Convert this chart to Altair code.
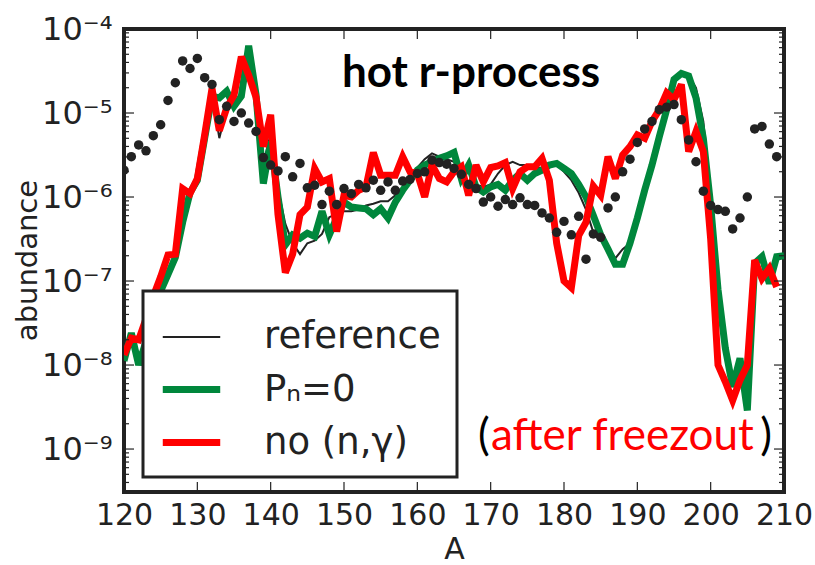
import altair as alt
import pandas as pd

# ---------------- data (log10 of abundance) ----------------
A_lines = list(range(120, 211))          # mass numbers for reference and P_n=0
A_nong = list(range(120, 210))           # mass numbers for no (n,gamma)
A_solar = list(range(120, 210))          # mass numbers for solar dots

ref_log10 = [
    -7.95, -7.65, -7.95, -7.72, -7.40, -7.12, -6.92, -6.72, -6.30, -5.95,
    -5.80, -5.30, -4.78, -5.30, -4.95, -4.88, -4.45, -4.25, -4.80, -5.60,
    -5.25, -5.90, -6.32, -6.55, -6.68, -6.55, -6.52, -6.44, -6.24, -6.20,
    -6.17, -6.17, -6.15, -6.10, -6.08, -6.05, -6.05, -5.98, -5.90, -5.80,
    -5.65, -5.55, -5.48, -5.52, -5.55, -5.58, -5.75, -5.70, -5.85, -5.88,
    -5.85, -5.72, -5.62, -5.58, -5.62, -5.62, -5.66, -5.65, -5.62, -5.62,
    -5.70, -5.80, -5.95, -6.15, -6.42, -6.47, -6.60, -6.73, -6.62, -6.55,
    -6.22, -5.85, -5.58, -5.26, -4.94, -4.60, -4.52, -4.55, -4.70, -5.10,
    -6.00, -7.10, -7.85, -8.20, -8.00, -8.40, -6.80, -6.75, -7.00, -6.75,
    -6.72,
]

pn0_log10 = [
    -7.95, -7.62, -8.00, -7.72, -7.38, -7.12, -6.92, -6.72, -6.30, -5.95,
    -5.80, -5.30, -4.80, -4.82, -4.74, -4.92, -4.80, -4.20, -4.78, -5.84,
    -5.34, -6.00, -6.57, -6.45, -6.49, -6.43, -6.47, -6.17, -6.45, -6.25,
    -6.06, -6.12, -6.13, -6.14, -6.21, -6.14, -6.25, -6.06, -5.92, -5.80,
    -5.68, -5.62, -5.58, -5.54, -5.51, -5.47, -5.78, -5.62, -5.88, -5.94,
    -5.88, -5.85, -5.92, -5.80, -5.72, -5.80, -5.72, -5.68, -5.62, -5.60,
    -5.66, -5.72, -5.85, -6.00, -6.22, -6.45, -6.62, -6.80, -6.80, -6.55,
    -6.25, -5.92, -5.62, -5.28, -4.96, -4.60, -4.53, -4.56, -4.82, -5.30,
    -6.10, -7.10, -7.80, -8.26, -7.92, -8.54, -6.79, -6.71, -7.03, -6.71,
    -6.70,
]

nong_log10 = [
    -7.88, -7.68, -7.70, -7.45, -7.18, -6.95, -6.69, -6.68, -5.90, -5.96,
    -5.78, -5.26, -4.71, -5.21, -4.94, -4.79, -4.33, -4.55, -4.81, -5.40,
    -5.02, -6.21, -6.90, -6.68, -6.21, -6.12, -5.66, -5.82, -5.78, -6.41,
    -5.98, -6.00, -5.92, -5.88, -5.47, -5.74, -5.74, -5.74, -5.52, -5.70,
    -5.72, -6.00, -5.62, -5.78, -5.82, -5.70, -5.64, -5.98, -5.62, -5.82,
    -5.65, -5.63, -5.59, -5.90, -5.70, -5.64, -5.64, -5.54, -5.80, -6.55,
    -7.00, -7.08, -6.46, -6.30, -5.87, -5.98, -5.52, -5.78, -5.50, -5.40,
    -5.26, -5.30, -5.10, -4.96, -4.76, -4.84, -4.66, -5.46, -5.22, -5.46,
    -6.50, -8.00, -8.20, -8.42, -8.18, -8.00, -6.75, -6.97, -6.85, -7.07,
]

solar_log10 = [
    -5.68, -5.52, -5.38, -5.45, -5.27, -5.14, -4.85, -4.64, -4.38, -4.47,
    -4.35, -4.58, -4.66, -5.08, -4.92, -5.10, -5.00, -5.12, -5.22, -5.53,
    -5.62, -5.69, -5.52, -5.76, -5.60, -5.89, -5.86, -6.09, -5.93, -6.09,
    -5.90, -5.96, -5.85, -5.89, -5.80, -5.92, -5.82, -5.92, -5.81, -5.79,
    -5.72, -5.70, -5.56, -5.59, -5.61, -5.66, -5.73, -5.85, -5.90, -6.06,
    -6.00, -6.11, -6.03, -6.09, -6.01, -6.09, -6.10, -6.19, -6.25, -6.42,
    -6.29, -6.45, -6.23, -6.74, -6.44, -6.48, -6.13, -6.00, -5.70, -5.55,
    -5.35, -5.19, -5.10, -4.96, -4.93, -4.90, -5.08, -5.32, -5.58, -5.93,
    -6.10, -6.15, -6.17, -6.38, -6.25, -6.00, -5.19, -5.16, -5.37, -5.52,
]

series_names = ["reference", "P\u2099=0", "no (n,\u03b3)"]
series_colors = ["#222222", "#00873c", "#ff0000"]
series_widths = [2, 7, 7]

x_tick_values = [120, 130, 140, 150, 160, 170, 180, 190, 200, 210]
y_major_values = [1e-4, 1e-5, 1e-6, 1e-7, 1e-8, 1e-9]
y_minor_values = [m * 10.0 ** k for k in range(-10, -4) for m in range(2, 10)
                  if 3.08e-10 <= m * 10.0 ** k <= 1e-4]

# ---------------- tables ----------------
def frame(a, logs, name):
    return pd.DataFrame({"A": a, "abundance": [10.0 ** v for v in logs], "series": name})

df_ref = frame(A_lines, ref_log10, series_names[0])
df_pn0 = frame(A_lines, pn0_log10, series_names[1])
df_nong = frame(A_nong, nong_log10, series_names[2])
df_solar = pd.DataFrame({"A": A_solar, "abundance": [10.0 ** v for v in solar_log10]})

W, H = 660, 463
FONT = "DejaVu Sans"
INK = "#222222"

x_scale = alt.Scale(domain=[120, 210], nice=False, zero=False)
y_scale = alt.Scale(type="log", domain=[3.08e-10, 1e-4], nice=False)

label_expr = ("datum.value > 5e-5 ? '10\u207b\u2074' : datum.value > 5e-6 ? '10\u207b\u2075' : "
              "datum.value > 5e-7 ? '10\u207b\u2076' : datum.value > 5e-8 ? '10\u207b\u2077' : "
              "datum.value > 5e-9 ? '10\u207b\u2078' : '10\u207b\u2079'")

x_axis = alt.Axis(values=x_tick_values, title="A", ticks=False, domain=False, grid=False,
                  labelFontSize=30, labelFont=FONT, labelColor=INK, labelPadding=8,
                  labelFlush=False, labelOverlap=False,
                  titleFontSize=30, titleFont=FONT, titleColor=INK, titleFontWeight="normal",
                  titlePadding=4)
y_axis = alt.Axis(values=y_major_values, title="abundance", ticks=False, domain=False, grid=False,
                  labelExpr=label_expr, labelFontSize=32, labelFont=FONT, labelColor=INK,
                  labelPadding=12, labelFlush=False, labelOverlap=False,
                  titleFontSize=29, titleFont=FONT, titleColor=INK, titleFontWeight="normal",
                  titleAngle=270, titleX=-97, titleY=231, titleAlign="center",
                  titleBaseline="middle")

legend_def = alt.Legend(title=None, orient="none", legendX=19, legendY=262,
                        symbolType="stroke", symbolSize=3300, labelFontSize=37,
                        labelFont=FONT, labelColor=INK, labelOffset=40, rowPadding=2,
                        padding=16, strokeColor=INK, fillColor="white", labelLimit=400)

color_enc = alt.Color("series:N", scale=alt.Scale(domain=series_names, range=series_colors),
                      sort=series_names, legend=legend_def)
width_enc = alt.StrokeWidth("series:N",
                            scale=alt.Scale(type="ordinal", domain=series_names, range=series_widths),
                            sort=series_names, legend=legend_def)

X = alt.X("A:Q", scale=x_scale, axis=x_axis)
Y = alt.Y("abundance:Q", scale=y_scale, axis=y_axis)


def line_layer(df):
    return alt.Chart(df).mark_line(clip=True, strokeJoin="miter", strokeMiterLimit=3).encode(
        x=X, y=Y, color=color_enc, strokeWidth=width_enc,
    )


ref_layer = line_layer(df_ref)
pn0_layer = line_layer(df_pn0)
nong_layer = line_layer(df_nong)

solar_layer = alt.Chart(df_solar).mark_circle(clip=True, size=90, color=INK, opacity=1).encode(
    x=X, y=Y,
)

# inward ticks like the original frame
xt = pd.DataFrame({"A": x_tick_values})
ymaj = pd.DataFrame({"abundance": y_major_values})
ymin = pd.DataFrame({"abundance": y_minor_values})
tick_style = dict(color=INK, strokeWidth=1.2)

x_ticks_bottom = alt.Chart(xt).mark_rule(**tick_style).encode(
    x=X, y=alt.value(H - 10), y2=alt.value(H))
x_ticks_top = alt.Chart(xt).mark_rule(**tick_style).encode(
    x=X, y=alt.value(0), y2=alt.value(10))
y_major_left = alt.Chart(ymaj).mark_rule(**tick_style).encode(
    y=Y, x=alt.value(0), x2=alt.value(10))
y_major_right = alt.Chart(ymaj).mark_rule(**tick_style).encode(
    y=Y, x=alt.value(W - 10), x2=alt.value(W))
y_minor_left = alt.Chart(ymin).mark_rule(**tick_style).encode(
    y=Y, x=alt.value(0), x2=alt.value(5))
y_minor_right = alt.Chart(ymin).mark_rule(**tick_style).encode(
    y=Y, x=alt.value(W - 5), x2=alt.value(W))

# texts
title_text = alt.Chart(pd.DataFrame({"t": ["hot r-process"]})).mark_text(
    font="Lato", fontSize=44, fontWeight="bold", color="black", align="center",
    baseline="alphabetic").encode(text="t:N", x=alt.value(347), y=alt.value(58))

paren_l = alt.Chart(pd.DataFrame({"t": ["("]})).mark_text(
    font="Lato", fontSize=44, color="black", align="left", baseline="alphabetic").encode(
    text="t:N", x=alt.value(354), y=alt.value(421))
after_txt = alt.Chart(pd.DataFrame({"t": ["after freezout"]})).mark_text(
    font="Lato", fontSize=44, color="#ff0000", align="left", baseline="alphabetic").encode(
    text="t:N", x=alt.value(367), y=alt.value(421))
paren_r = alt.Chart(pd.DataFrame({"t": [")"]})).mark_text(
    font="Lato", fontSize=44, color="black", align="right", baseline="alphabetic").encode(
    text="t:N", x=alt.value(648), y=alt.value(421))

chart = alt.layer(
    ref_layer, pn0_layer, nong_layer, solar_layer,
    x_ticks_bottom, x_ticks_top, y_major_left, y_major_right, y_minor_left, y_minor_right,
    title_text, paren_l, after_txt, paren_r,
).properties(
    width=W, height=H,
    autosize=alt.AutoSizeParams(type="none"),
    padding={"left": 124, "top": 29, "right": 31, "bottom": 73},
    background="white",
).configure_view(
    stroke=INK, strokeWidth=4,
).configure_legend(
    strokeWidth=3,
)

chart.save("out.html", embed_options={"renderer": "svg", "actions": False})
